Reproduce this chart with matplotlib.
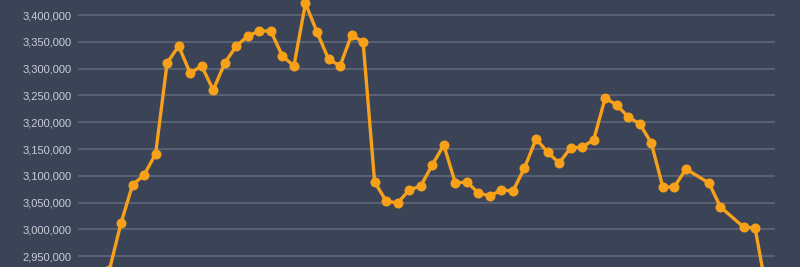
import matplotlib
matplotlib.use("Agg")
import matplotlib.pyplot as plt
from matplotlib.ticker import FuncFormatter

# data (x = day index, a couple of days have no point)
days = [0, 1, 2, 3, 4, 5, 6, 7, 8, 9, 10, 11, 12, 13, 14, 15, 16, 17, 18, 19,
        20, 21, 22, 23, 24, 25, 26, 27, 28, 29, 30, 31, 32, 33, 34, 35, 36, 37,
        38, 39, 40, 41, 42, 43, 44, 45, 46, 47, 48, 49, 50, 52, 53, 55, 56, 57]
values = [2925000, 3012000, 3083000, 3101600, 3140800, 3310500, 3342200,
          3291800, 3304900, 3260100, 3310500, 3342200, 3360800, 3370200,
          3370000, 3323500, 3304900, 3421800, 3368300, 3317900, 3304900,
          3362700, 3349600, 3088600, 3053100, 3049400, 3073600, 3081100,
          3120300, 3157600, 3086700, 3088600, 3068100, 3062500, 3073600,
          3071800, 3114700, 3168800, 3144500, 3124000, 3152000, 3153800,
          3166900, 3245200, 3232200, 3209800, 3196800, 3161400, 3079200,
          3079200, 3112800, 3086700, 3041900, 3004600, 3002800, 2885000]
yticks = [2950000, 3000000, 3050000, 3100000, 3150000, 3200000, 3250000,
          3300000, 3350000, 3400000]

bg = "#3b4357"
orange = "#f7a11a"

fig = plt.figure(figsize=(8, 2.67), dpi=100, facecolor=bg)
ax = fig.add_axes([78 / 800, 0, (775 - 78) / 800, 1])
ax.set_facecolor(bg)

ax.plot(days, values, color=orange, lw=2.4, marker="o", ms=7.2,
        markeredgewidth=0, zorder=3, clip_on=False)

ax.set_xlim(-2.73, 57.73)
ax.set_ylim(2930000, 3428000)
ax.set_yticks(yticks)
ax.yaxis.set_major_formatter(FuncFormatter(lambda v, p: f"{int(v):,}"))
ax.set_xticks([])
ax.grid(axis="y", color="#5f677a", lw=1.2)
ax.set_axisbelow(True)
ax.tick_params(axis="y", length=0, pad=4.5, labelsize=8, labelcolor="#c9cdd7")
for lab in ax.get_yticklabels():
    lab.set_family(["Liberation Sans", "DejaVu Sans"])
for s in ax.spines.values():
    s.set_visible(False)

fig.savefig("out.png", dpi=100, facecolor=bg)
